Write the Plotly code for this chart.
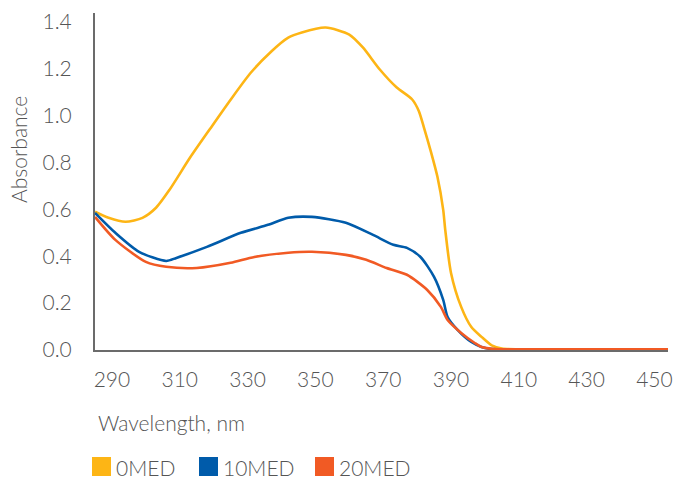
import plotly.graph_objects as go

# ---- data ----
series_names = ["0MED", "10MED", "20MED"]
series_colors = ["#FDB515", "#005BAA", "#F15A24"]

wl_0med = [285, 289, 294, 299, 303, 307, 313, 319, 325, 331, 337, 342, 346, 353, 360, 364, 369, 374,
           378.5, 380.5, 382, 384, 386, 387.7, 388.3, 390, 393, 396, 399, 402, 405, 410, 430, 454]
abs_0med = [0.590, 0.564, 0.547, 0.564, 0.607, 0.684, 0.820, 0.945, 1.068, 1.184, 1.274, 1.333, 1.355,
            1.376, 1.346, 1.291, 1.197, 1.120, 1.070, 1.020, 0.950, 0.850, 0.739, 0.598, 0.513, 0.329,
            0.184, 0.098, 0.056, 0.020, 0.006, 0.003, 0.003, 0.003]

wl_10med = [285, 291, 298, 306, 309, 318, 328, 336, 342, 349, 359, 367, 373, 377, 381, 385, 387.7,
            389, 392, 396, 399, 402, 410, 430, 454]
abs_10med = [0.585, 0.500, 0.419, 0.380, 0.393, 0.440, 0.500, 0.534, 0.564, 0.568, 0.543, 0.491, 0.449,
             0.436, 0.397, 0.312, 0.214, 0.141, 0.085, 0.034, 0.013, 0.004, 0.003, 0.003, 0.003]

wl_20med = [285, 291, 300, 306, 315, 325, 332, 342, 349, 359, 365, 371, 377, 383, 387, 389, 393, 397,
            399, 403, 410, 430, 454]
abs_20med = [0.568, 0.470, 0.376, 0.355, 0.350, 0.372, 0.397, 0.415, 0.419, 0.406, 0.385, 0.350, 0.321,
             0.256, 0.184, 0.128, 0.073, 0.030, 0.013, 0.004, 0.003, 0.003, 0.003]

x_ticks = [290, 310, 330, 350, 370, 390, 410, 430, 450]
y_ticks = [0.0, 0.2, 0.4, 0.6, 0.8, 1.0, 1.2, 1.4]
x_title = "Wavelength, nm"
y_title = "Absorbance"

FONT = "Lato"
FS = 21
WT = 300
GREY = "#555555"

def fnt():
    return dict(family=FONT, size=FS, color=GREY, weight=WT)

fig = go.Figure()
for name, color, xs, ys in zip(series_names, series_colors,
                               [wl_0med, wl_10med, wl_20med],
                               [abs_0med, abs_10med, abs_20med]):
    fig.add_trace(go.Scatter(x=xs, y=ys, name=name, mode="lines",
                             line=dict(color=color, width=2.6, shape="spline", smoothing=0.7),
                             showlegend=False))

fig.update_layout(
    width=673, height=479,
    margin=dict(l=95, r=5, t=13, b=129, autoexpand=False),
    paper_bgcolor="white", plot_bgcolor="white",
    font=fnt(),
    xaxis=dict(range=[285, 454], tickvals=x_ticks, ticktext=[str(v) for v in x_ticks],
               showgrid=False, zeroline=False, showline=True, linecolor="#6b6b6b", linewidth=2,
               ticks="outside", ticklen=10, tickcolor="rgba(0,0,0,0)", automargin=False,
               tickfont=fnt()),
    yaxis=dict(range=[0, 1.438], tickvals=y_ticks, ticktext=[f"{v:.1f}" for v in y_ticks],
               showgrid=False, zeroline=False, showline=True, linecolor="#6b6b6b", linewidth=2,
               ticks="outside", ticklen=17, tickcolor="rgba(0,0,0,0)", automargin=False,
               tickfont=fnt()),
)

plot_w = 673 - 95 - 5
plot_h = 479 - 13 - 129

def px_x(px):
    return (px - 95) / plot_w

def px_y(py):
    return (350 - py) / plot_h

# axis titles
fig.add_annotation(text=x_title, xref="paper", yref="paper", x=px_x(96), y=px_y(422),
                   xanchor="left", yanchor="middle", showarrow=False, font=fnt())
fig.add_annotation(text=y_title, xref="paper", yref="paper", x=px_x(18), y=px_y(150),
                   xanchor="center", yanchor="middle", textangle=-90, showarrow=False, font=fnt())

# manual legend with square swatches
leg_x = [92, 199, 315]  # pixel positions of swatches
for name, color, px in zip(series_names, series_colors, leg_x):
    fig.add_shape(type="rect", xref="paper", yref="paper", x0=px_x(px), x1=px_x(px + 19),
                  y0=px_y(476), y1=px_y(457), fillcolor=color, line=dict(width=0))
    fig.add_annotation(text=name, xref="paper", yref="paper", x=px_x(px + 22),
                       y=px_y(467), xanchor="left", yanchor="middle", showarrow=False, font=fnt())

fig.write_html("out.html", config={"displayModeBar": False},
               post_script="document.body.style.margin='0';document.body.style.padding='0';"
                           "document.body.style.overflow='hidden';")
